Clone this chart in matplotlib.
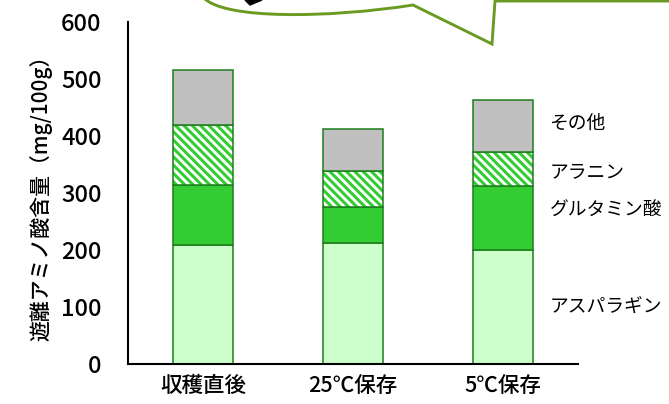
import numpy as np
import matplotlib.pyplot as plt
from matplotlib.path import Path
from matplotlib.patches import PathPatch, Polygon

plt.rcParams['font.family'] = ['Noto Sans CJK JP', 'DejaVu Sans']
plt.rcParams['hatch.linewidth'] = 2.2

#data (mg/100g)
categories = ["収穫直後", "25℃保存", "5℃保存"]
asparagine = [208, 213, 200]
glutamic = [106, 62, 112]
alanine = [105, 64, 60]
other = [96, 74, 92]
series_names = ["アスパラギン", "グルタミン酸", "アラニン", "その他"]

W, H = 669, 404
fig = plt.figure(figsize=(W/100, H/100), dpi=100)

#speech bubble fragment at the top (drawn behind the chart)
ov = fig.add_axes([0, 0, 1, 1])
ov.set_xlim(0, W)
ov.set_ylim(H, 0)
ov.axis('off')
verts = [(203, -3), (222, 20), (330, 18), (413, 5), (492, 44), (495, 1), (669, 1)]
codes = [Path.MOVETO, Path.CURVE4, Path.CURVE4, Path.CURVE4, Path.LINETO, Path.LINETO, Path.LINETO]
ov.add_patch(PathPatch(Path(verts, codes), facecolor='none', edgecolor='#6b9a22', lw=2.1))
ov.add_patch(Polygon([(245, 0), (262, 0), (250, 5)], color='black'))

ax = fig.add_axes([128/W, 1-364/H, 450/W, 342/H])
ax.patch.set_alpha(0)

x = np.arange(len(categories))
edge = '#1d7d1d'
bw = 0.4

b0 = np.zeros(3)
ax.bar(x, asparagine, bw, bottom=b0, color='#ccffcc', edgecolor=edge, linewidth=1.1)
b1 = b0 + asparagine
ax.bar(x, glutamic, bw, bottom=b1, color='#33cc33', edgecolor=edge, linewidth=1.1)
b2 = b1 + glutamic
#hatched alanine: draw hatch first, then outline
ax.bar(x, alanine, bw, bottom=b2, color='white', edgecolor='#33cc33', hatch='\\\\\\\\', linewidth=0)
ax.bar(x, alanine, bw, bottom=b2, fill=False, edgecolor=edge, linewidth=1.1)
b3 = b2 + alanine
ax.bar(x, other, bw, bottom=b3, color='#c0c0c0', edgecolor=edge, linewidth=1.1)

ax.set_xlim(-0.5, 2.5)
ax.set_ylim(0, 600)
ax.set_yticks(np.arange(0, 601, 100))
ax.set_xticks(x)
ax.set_xticklabels(categories, fontsize=15.5, fontweight='medium')
for t in ax.get_yticklabels():
    t.set_fontweight('medium')
ax.tick_params(axis='y', length=0, pad=19, labelsize=17)
ax.tick_params(axis='x', length=0, pad=8)
for s in ['top', 'right']:
    ax.spines[s].set_visible(False)
for s in ['left', 'bottom']:
    ax.spines[s].set_linewidth(1.5)
ax.set_ylabel("遊離アミノ酸含量（mg/100g）", fontsize=15, fontweight='medium', labelpad=6)

#series labels next to the last bar
lab_y = [100, 270, 337, 422]
for name, yy in zip(series_names, lab_y):
    ax.text(2.31, yy, name, fontsize=13.5, va='center', ha='left')

fig.savefig("out.png", dpi=100)
